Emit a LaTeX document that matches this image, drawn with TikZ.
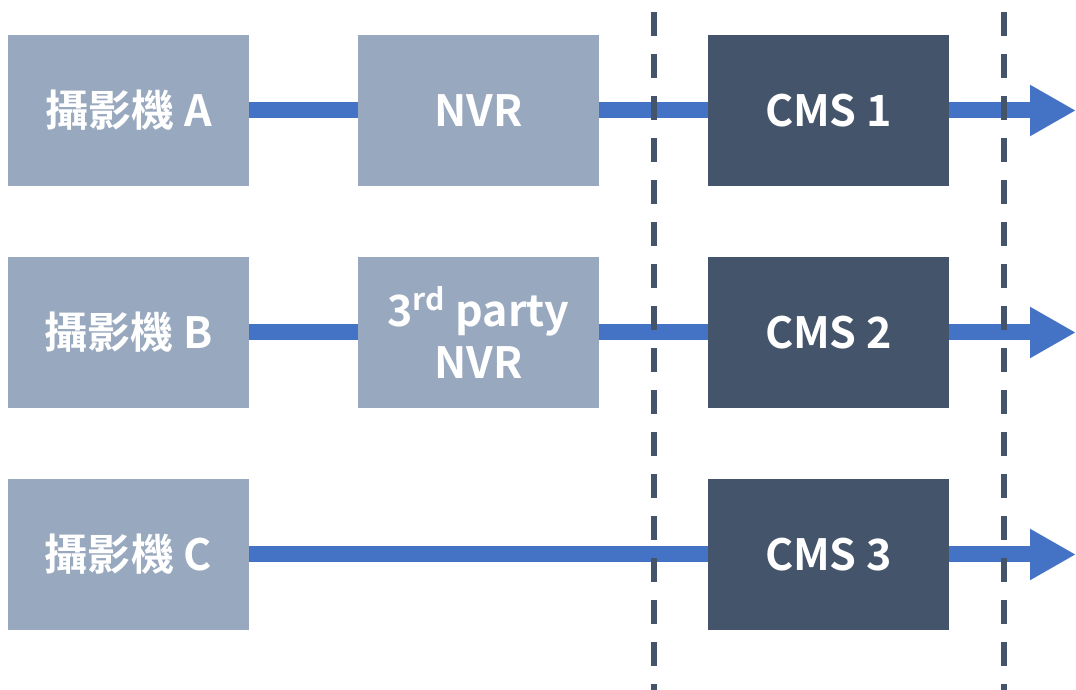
\documentclass[tikz,border=0pt]{standalone}
\usepackage{fontspec}
\setmainfont{Noto Sans CJK TC}[UprightFont=* Bold]
\usepackage{xcolor}
\usetikzlibrary{positioning, arrows.meta}

\definecolor{camfill}{HTML}{98A8BE}
\definecolor{cmsfill}{HTML}{44546A}
\definecolor{linkblue}{HTML}{4472C4}

\begin{document}
\begin{tikzpicture}[
    box/.style={rectangle, minimum width=4.82cm, minimum height=3.02cm, inner sep=0pt,
      text=white, align=center, font=\fontsize{24.5}{29.6}\selectfont},
    cambox/.style={box, fill=camfill},
    cmsbox/.style={box, fill=cmsfill},
    link/.style={draw=linkblue, line width=0.32cm},
    outlink/.style={link, -{Triangle[length=0.92cm, width=0.96cm]}},
    divider/.style={draw=cmsfill, line width=0.12cm, dash pattern=on 0.48cm off 0.36cm}
  ]
  \useasboundingbox (0, 0) rectangle (21.52, 13.8);

  \node[cambox] (camA) at (2.57, 11.59) {攝影機 A};
  \node[cambox] (camB) at (2.57, 7.15) {攝影機 B};
  \node[cambox] (camC) at (2.57, 2.71) {攝影機 C};

  \node[cambox] (nvr) at (9.57, 11.59) {NVR};
  \node[cambox] (nvr3) at (9.57, 7.15) {3\textsuperscript{rd} party\\NVR};

  \node[cmsbox] (cms1) at (16.57, 11.59) {CMS 1};
  \node[cmsbox] (cms2) at (16.57, 7.15) {CMS 2};
  \node[cmsbox] (cms3) at (16.57, 2.71) {CMS 3};

  \coordinate (out1) at (21.52, 11.59);
  \coordinate (out2) at (21.52, 7.15);
  \coordinate (out3) at (21.52, 2.71);

  \draw[link] (camA) -- (nvr);
  \draw[link] (nvr) -- (cms1);
  \draw[link] (camB) -- (nvr3);
  \draw[link] (nvr3) -- (cms2);
  \draw[link] (camC) -- (cms3);

  \draw[outlink] (cms1) -- (out1);
  \draw[outlink] (cms2) -- (out2);
  \draw[outlink] (cms3) -- (out3);

  % boundaries
  \coordinate (divAtop) at (13.08, 13.56);
  \coordinate (divAbot) at (13.08, 0);
  \coordinate (divBtop) at (20.08, 13.56);
  \coordinate (divBbot) at (20.08, 0);
  \draw[divider] (divAtop) -- (divAbot);
  \draw[divider] (divBtop) -- (divBbot);
\end{tikzpicture}
\end{document}
